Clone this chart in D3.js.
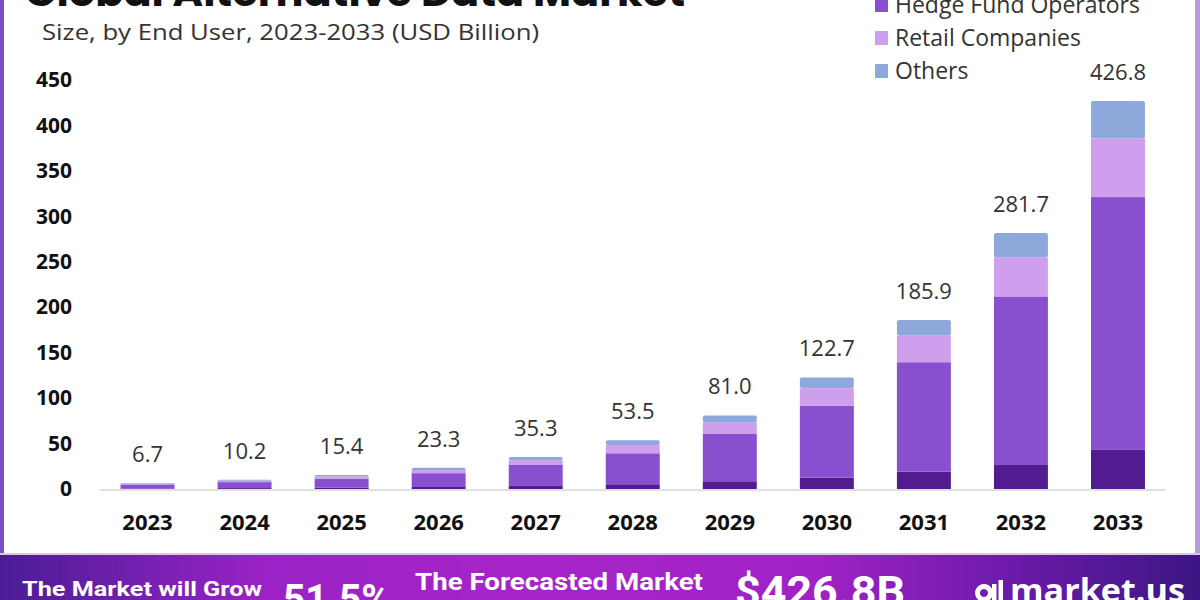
<!DOCTYPE html>
<html>
<head>
<meta charset="utf-8">
<script src="https://cdn.jsdelivr.net/npm/d3@7"></script>
<style>
  html, body { margin: 0; padding: 0; background: #fff; }
  svg { display: block; }
</style>
</head>
<body>
<svg id="chart" width="1200" height="600"></svg>
<script>
// ---- data ----
const years = ["2023","2024","2025","2026","2027","2028","2029","2030","2031","2032","2033"];
const seriesNames = ["Investment Institutions","Hedge Fund Operators","Retail Companies","Others"];
const investment = [0.6, 1.0, 1.5, 2.2, 3.4, 5.2, 8.5, 12.5, 19.0, 27.2, 43.0];
const hedgeFund  = [4.4, 6.6, 10.0, 15.2, 23.0, 34.1, 52.0, 79.2, 120.5, 184.7, 278.2];
const retail     = [1.0, 1.5, 2.3, 3.5, 5.3, 9.2, 12.8, 19.3, 29.0, 43.1, 64.4];
const others     = [0.7, 1.1, 1.6, 2.4, 3.6, 5.0, 7.7, 11.7, 17.4, 26.7, 41.2];
const totals     = [6.7, 10.2, 15.4, 23.3, 35.3, 53.5, 81.0, 122.7, 185.9, 281.7, 426.8];
const yTicks     = [0, 50, 100, 150, 200, 250, 300, 350, 400, 450];
const colors     = ["#521b90", "#8a4fcf", "#cf9fee", "#8fa8dc"];

const svg = d3.select("#chart");
const defs = svg.append("defs");

// card frame
svg.append("rect").attr("x",0).attr("y",0).attr("width",1200).attr("height",600).attr("fill","#7a52bf");
svg.append("rect").attr("x",1195).attr("y",0).attr("width",5).attr("height",600).attr("fill","#b79ad8");
svg.append("rect").attr("x",4).attr("y",-2).attr("width",1191).attr("height",556).attr("fill","#ffffff");

// bottom banner gradient
const grad = defs.append("linearGradient").attr("id","banner").attr("x1","0%").attr("x2","100%");
[["0%","#4a1d95"],["22%","#9a22c6"],["45%","#a625c8"],["68%","#a022c4"],["85%","#6a1aa8"],["100%","#3c1683"]]
  .forEach(([o,c]) => grad.append("stop").attr("offset",o).attr("stop-color",c));
svg.append("rect").attr("x",0).attr("y",555).attr("width",1200).attr("height",45).attr("fill","url(#banner)");
svg.append("rect").attr("x",0).attr("y",553).attr("width",1200).attr("height",2).attr("fill","#d9c6ef");

// title & subtitle
svg.append("text").attr("x",25).attr("y",6)
  .attr("font-family","Poppins, 'Open Sans', sans-serif").attr("font-weight",700)
  .attr("font-size",38).attr("fill","#111")
  .attr("textLength",660).attr("lengthAdjust","spacingAndGlyphs")
  .text("Global Alternative Data Market");
svg.append("text").attr("x",42).attr("y",40)
  .attr("font-family","'Open Sans', sans-serif").attr("font-size",21).attr("fill","#333")
  .attr("textLength",497).attr("lengthAdjust","spacingAndGlyphs")
  .text("Size, by End User, 2023-2033 (USD Billion)");

// legend
const legend = svg.append("g");
seriesNames.forEach((name, i) => {
  const cy = -28 + i * 33;
  legend.append("rect").attr("x",875).attr("y",cy-7).attr("width",13).attr("height",14).attr("fill",colors[i]);
  legend.append("text").attr("x",895).attr("y",cy).attr("dy","0.35em")
    .attr("font-family","'Open Sans', sans-serif").attr("font-size",23).attr("fill","#333")
    .text(name);
});

// scales
const x = d3.scaleBand().domain(years).range([99, 1166.5]).paddingInner(0.444).paddingOuter(0.222);
const y = d3.scaleLinear().domain([0, 450]).range([489, 80]);

// axis line
svg.append("line").attr("x1",100).attr("x2",1166).attr("y1",y(0)+1).attr("y2",y(0)+1)
  .attr("stroke","#d6d6d6").attr("stroke-width",1.5);

// y axis labels
const yAxis = d3.axisLeft(y).tickValues(yTicks).tickSize(0).tickPadding(0);
const yg = svg.append("g").attr("transform","translate(72,0)").call(yAxis);
yg.select(".domain").remove();
yg.selectAll("text").attr("font-family","'Open Sans', sans-serif").attr("font-weight",700)
  .attr("font-size",21).attr("fill","#111");

// x axis labels
const xAxis = d3.axisBottom(x).tickSize(0).tickPadding(0);
const xg = svg.append("g").attr("transform","translate(0,514)").call(xAxis);
xg.select(".domain").remove();
xg.selectAll("text").attr("font-family","'Open Sans', sans-serif").attr("font-weight",700)
  .attr("font-size",22).attr("fill","#111");

// stacked bars
const rows = years.map((yr, i) => ({year: yr, s0: investment[i], s1: hedgeFund[i], s2: retail[i], s3: others[i]}));
const stack = d3.stack().keys(["s0","s1","s2","s3"])(rows);
stack.forEach((layer, li) => {
  svg.append("g").attr("fill", colors[li]).selectAll("rect")
    .data(layer).join("rect")
    .attr("x", d => x(d.data.year))
    .attr("width", x.bandwidth())
    .attr("y", d => y(d[1]))
    .attr("height", d => Math.max(0, y(d[0]) - y(d[1])))
    .attr("rx", li === 3 ? 2 : 0);
});

// value labels
svg.append("g").selectAll("text").data(years).join("text")
  .attr("x", d => x(d) + x.bandwidth()/2)
  .attr("y", (d,i) => y(totals[i]) - 21)
  .attr("text-anchor","middle")
  .attr("font-family","'Open Sans', sans-serif").attr("font-size",22).attr("fill","#333")
  .text((d,i) => totals[i].toFixed(1));

// banner texts
const cond = "Roboto, 'Liberation Sans', sans-serif";
svg.append("text").attr("x",22).attr("y",596).attr("font-family",cond).attr("font-weight",700)
  .attr("font-size",21).attr("fill","#fff").attr("textLength",240).attr("lengthAdjust","spacingAndGlyphs")
  .text("The Market will Grow");
svg.append("text").attr("x",283).attr("y",614).attr("font-family",cond).attr("font-weight",700)
  .attr("font-size",42).attr("fill","#fff").attr("textLength",107).attr("lengthAdjust","spacingAndGlyphs")
  .text("51.5%");
svg.append("text").attr("x",415).attr("y",590).attr("font-family",cond).attr("font-weight",700)
  .attr("font-size",23).attr("fill","#fff").attr("textLength",288).attr("lengthAdjust","spacingAndGlyphs")
  .text("The Forecasted Market");
svg.append("text").attr("x",735).attr("y",606).attr("font-family",cond).attr("font-weight",700)
  .attr("font-size",42).attr("fill","#fff").attr("textLength",170).attr("lengthAdjust","spacingAndGlyphs")
  .text("$426.8B");

// logo
const logo = svg.append("g").attr("fill","#fff");
logo.append("path").attr("d","M984,584 a9,9 0 1,0 0.1,0 Z M984,589 a4,4 0 1,1 -0.1,0 Z").attr("fill-rule","evenodd");
logo.append("rect").attr("x",992).attr("y",584).attr("width",4.5).attr("height",20);
logo.append("rect").attr("x",998.5).attr("y",580).attr("width",4.5).attr("height",24);
svg.append("text").attr("x",1010).attr("y",602).attr("font-family","'Open Sans', sans-serif").attr("font-weight",700)
  .attr("font-size",32).attr("fill","#fff").attr("textLength",175).attr("lengthAdjust","spacingAndGlyphs")
  .text("market.us");
</script>
</body>
</html>
